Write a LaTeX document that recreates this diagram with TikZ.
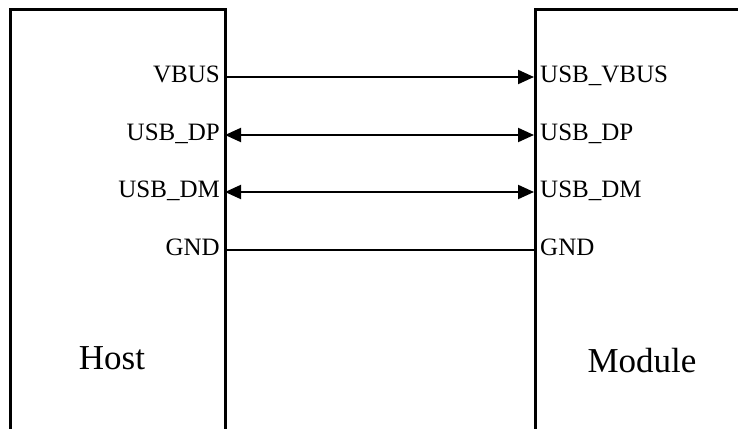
\documentclass[tikz,border=0pt]{standalone}
\usepackage{fontspec}
\setmainfont{Liberation Serif}
\usetikzlibrary{arrows.meta}

\tikzset{
  boxline/.style={line width=3pt},
  sigline/.style={line width=2pt},
  sig/.style={-{Triangle[length=16pt,width=14pt]}},
  bisig/.style={{Triangle[length=16pt,width=14pt]}-{Triangle[length=16pt,width=14pt]}},
  pinlabel/.style={font=\fontsize{25}{30}\selectfont, inner sep=0pt},
  boxlabel/.style={font=\fontsize{35}{42}\selectfont, inner sep=0pt}
}

\begin{document}
\begin{tikzpicture}[x=1pt,y=-1pt]

        \useasboundingbox (0,0) rectangle (738,428);
        \clip (0,0) rectangle (738,428);

        % the two boxes, cut at the picture edge
        \draw[boxline] (10,440) -- (10,10) -- (225,10) -- (225,440);
        \draw[boxline] (535,440) -- (535,10) -- (750,10);

        \node[boxlabel, anchor=base] (host)   at (112,369) {Host};
        \node[boxlabel, anchor=base] (module) at (642,372) {Module};

        % pin points on the box edges
        \coordinate (h1) at (225,77);
        \coordinate (h2) at (225,135);
        \coordinate (h3) at (225,192);
        \coordinate (h4) at (225,250);
        \coordinate (m1) at (534,77);
        \coordinate (m2) at (534,135);
        \coordinate (m3) at (534,192);
        \coordinate (m4) at (534,250);

        \begin{scope}[every node/.style={pinlabel, anchor=base east}]
          \node (hvbus) at (220,82.5)  {VBUS};
          \node (hdp)   at (220,140.5) {USB\_DP};
          \node (hdm)   at (220,197.5) {USB\_DM};
          \node (hgnd)  at (220,255.5) {GND};
        \end{scope}

        \begin{scope}[every node/.style={pinlabel, anchor=base west}]
          \node (mvbus) at (540,82.5)  {USB\_VBUS};
          \node (mdp)   at (540,140.5) {USB\_DP};
          \node (mdm)   at (540,197.5) {USB\_DM};
          \node (mgnd)  at (540,255.5) {GND};
        \end{scope}

        \begin{scope}[sigline]
          \draw[sig]   (h1) -- (m1);
          \draw[bisig] (h2) -- (m2);
          \draw[bisig] (h3) -- (m3);
          \draw        (h4) -- (m4);
        \end{scope}

      \end{tikzpicture}
\end{document}
